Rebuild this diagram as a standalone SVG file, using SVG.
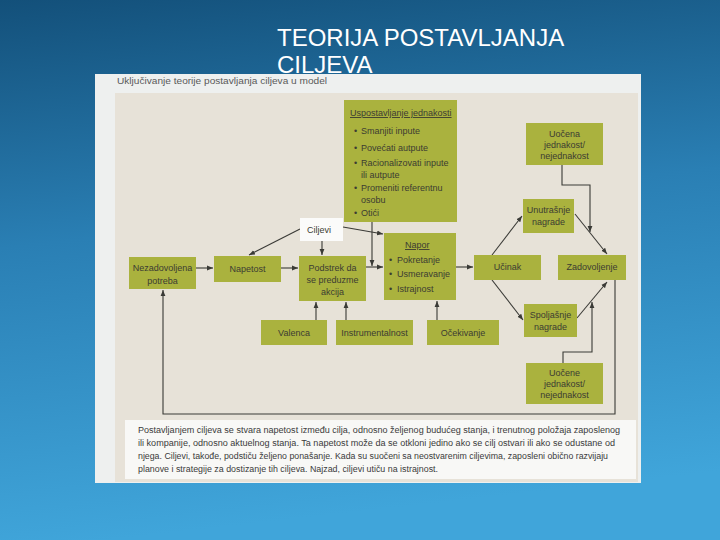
<svg xmlns="http://www.w3.org/2000/svg" width="720" height="540" viewBox="0 0 720 540">
<defs>
<linearGradient id="bg" x1="0" y1="0" x2="0.15" y2="1">
<stop offset="0" stop-color="#13507a"/>
<stop offset="0.45" stop-color="#2a7fb4"/>
<stop offset="1" stop-color="#40a5da"/>
</linearGradient>
<marker id="ah" viewBox="0 0 10 10" refX="10" refY="5" markerWidth="6" markerHeight="6" orient="auto" markerUnits="userSpaceOnUse">
<path d="M0,1 L10,5 L0,9 z" fill="#3a3a36"/>
</marker>
<style>
.n{fill:#aab23e;}
.t{font-family:"Liberation Sans",Arial,sans-serif;font-size:9px;fill:#3c3c32;}
.c{text-anchor:middle;}
.u{text-decoration:underline;}
.cap{font-family:"Liberation Sans",Arial,sans-serif;font-size:8.3px;fill:#3a3a3a;}
.ln{fill:none;stroke:#3a3a36;stroke-width:1.1;}
.ar{marker-end:url(#ah);}
</style>
</defs>
<rect x="0" y="0" width="720" height="540" fill="url(#bg)"/>
<text x="277" y="46" font-family="'Liberation Sans',Arial,sans-serif" font-size="24" fill="#ffffff">TEORIJA POSTAVLJANJA</text>
<text x="277" y="73" font-family="'Liberation Sans',Arial,sans-serif" font-size="24" fill="#ffffff">CILJEVA</text>
<g id="picture">
<rect x="95" y="74" width="546" height="409" fill="#eef0ef"/>
<rect x="115" y="93" width="523" height="389" fill="#e7e2d8"/>
<text x="117" y="84" font-family="'Liberation Sans',Arial,sans-serif" font-size="9" fill="#5a5a5a" textLength="210" lengthAdjust="spacingAndGlyphs">Uključivanje teorije postavljanja ciljeva u model</text>
<rect x="125" y="420" width="511" height="59" fill="#f8f8f6"/>
<text class="cap" x="138" y="433" textLength="482" lengthAdjust="spacingAndGlyphs">Postavljanjem ciljeva se stvara napetost između cilja, odnosno željenog budućeg stanja, i trenutnog položaja zaposlenog</text>
<text class="cap" x="138" y="446" textLength="477" lengthAdjust="spacingAndGlyphs">ili kompanije, odnosno aktuelnog stanja. Ta napetost može da se otkloni jedino ako se cilj ostvari ili ako se odustane od</text>
<text class="cap" x="138" y="459" textLength="470" lengthAdjust="spacingAndGlyphs">njega. Ciljevi, takođe, podstiču željeno ponašanje. Kada su suočeni sa neostvarenim ciljevima, zaposleni obično razvijaju</text>
<text class="cap" x="138" y="472" textLength="300" lengthAdjust="spacingAndGlyphs">planove i strategije za dostizanje tih ciljeva. Najzad, ciljevi utiču na istrajnost.</text>
</g>
<g id="connectors">
<path class="ln ar" d="M196,268 L213,268"/>
<path class="ln ar" d="M281,268 L298,268"/>
<path class="ln ar" d="M300,229 L249,255"/>
<path class="ln ar" d="M322,241 L322,255"/>
<path class="ln ar" d="M343,227 L383,234"/>
<path class="ln ar" d="M372,222 L372,266"/>
<path class="ln ar" d="M366,267 L383,267"/>
<path class="ln ar" d="M456,267 L473,267"/>
<path class="ln ar" d="M316,320 L316,302"/>
<path class="ln ar" d="M346,320 L346,302"/>
<path class="ln ar" d="M437,320 L437,301"/>
<path class="ln ar" d="M492,255 L522,216"/>
<path class="ln ar" d="M575,214 L607,254"/>
<path class="ln ar" d="M492,280 L523,320"/>
<path class="ln ar" d="M577,318 L607,282"/>
<path class="ln ar" d="M562,165 L562,185 L590,185 L590,232"/>
<path class="ln ar" d="M563,363 L563,352 L592,352 L592,302"/>
<path class="ln ar" d="M615,280 L615,414 L163,414 L163,290"/>
</g>
<g id="uspostavljanje">
<rect class="n" x="344" y="100" width="113" height="122"/>
<text class="t u" x="350" y="116">Uspostavljanje jednakosti</text>
<text class="t" x="354" y="134">•</text><text class="t" x="361" y="134">Smanjiti inpute</text>
<text class="t" x="354" y="151">•</text><text class="t" x="361" y="151">Povećati autpute</text>
<text class="t" x="354" y="166">•</text><text class="t" x="361" y="166">Racionalizovati inpute</text>
<text class="t" x="361" y="178">ili autpute</text>
<text class="t" x="354" y="191">•</text><text class="t" x="361" y="191">Promeniti referentnu</text>
<text class="t" x="361" y="203">osobu</text>
<text class="t" x="354" y="216">•</text><text class="t" x="361" y="216">Otići</text>
</g>
<g id="ciljevi">
<rect x="300" y="218" width="43" height="23" fill="#fbfbfa"/>
<text class="t" x="307" y="233">Ciljevi</text>
</g>
<g id="nezadovoljena">
<rect class="n" x="129" y="257" width="67" height="32"/>
<text class="t c" x="162.5" y="271">Nezadovoljena</text>
<text class="t c" x="162.5" y="284">potreba</text>
</g>
<g id="napetost">
<rect class="n" x="214" y="256" width="67" height="26"/>
<text class="t c" x="247.5" y="272">Napetost</text>
</g>
<g id="podstrek">
<rect class="n" x="299" y="256" width="67" height="45"/>
<text class="t c" x="332.5" y="271">Podstrek da</text>
<text class="t c" x="332.5" y="283">se preduzme</text>
<text class="t c" x="332.5" y="295">akcija</text>
</g>
<g id="napor">
<rect class="n" x="384" y="233" width="72" height="67"/>
<text class="t u" x="405" y="248">Napor</text>
<text class="t" x="389" y="263">•</text><text class="t" x="397" y="263">Pokretanje</text>
<text class="t" x="389" y="277">•</text><text class="t" x="397" y="277">Usmeravanje</text>
<text class="t" x="389" y="292">•</text><text class="t" x="397" y="292">Istrajnost</text>
</g>
<g id="ucinak">
<rect class="n" x="474" y="255" width="67" height="25"/>
<text class="t c" x="507.5" y="270">Učinak</text>
</g>
<g id="zadovoljenje">
<rect class="n" x="558" y="255" width="68" height="25"/>
<text class="t c" x="592" y="270">Zadovoljenje</text>
</g>
<g id="uocena">
<rect class="n" x="526" y="123" width="77" height="42"/>
<text class="t c" x="564.5" y="137">Uočena</text>
<text class="t c" x="564.5" y="148">jednakost/</text>
<text class="t c" x="564.5" y="159">nejednakost</text>
</g>
<g id="unutrasnje">
<rect class="n" x="523" y="199" width="51" height="34"/>
<text class="t c" x="548.5" y="213">Unutrašnje</text>
<text class="t c" x="548.5" y="225">nagrade</text>
</g>
<g id="spoljasnje">
<rect class="n" x="524" y="304" width="53" height="33"/>
<text class="t c" x="550.5" y="318">Spoljašnje</text>
<text class="t c" x="550.5" y="330">nagrade</text>
</g>
<g id="valenca">
<rect class="n" x="261" y="320" width="66" height="25"/>
<text class="t c" x="294" y="336">Valenca</text>
</g>
<g id="instrumentalnost">
<rect class="n" x="336" y="320" width="77" height="25"/>
<text class="t c" x="374.5" y="336">Instrumentalnost</text>
</g>
<g id="ocekivanje">
<rect class="n" x="427" y="320" width="72" height="25"/>
<text class="t c" x="463" y="336">Očekivanje</text>
</g>
<g id="uocene">
<rect class="n" x="526" y="363" width="77" height="41"/>
<text class="t c" x="564.5" y="376">Uočene</text>
<text class="t c" x="564.5" y="387">jednakost/</text>
<text class="t c" x="564.5" y="398">nejednakost</text>
</g>
</svg>
